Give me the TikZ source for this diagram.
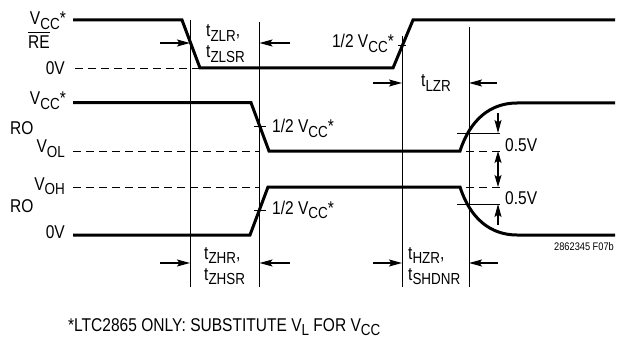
\documentclass[tikz,border=0pt]{standalone}
\usepackage{fontspec}
\setmainfont{Liberation Sans}[FakeStretch=0.84]
\usetikzlibrary{arrows.meta}
\newcommand\sbs[1]{\raisebox{-4.5pt}{\fontsize{16}{16}\selectfont #1}}
\newcommand\vcc{V\sbs{CC}}
\begin{document}
\begin{tikzpicture}[x=1pt,y=-1pt,
  wave/.style={line width=3pt,line join=miter},
  guide/.style={line width=0.9pt},
  dashline/.style={line width=0.9pt,dash pattern=on 8pt off 5pt},
  arr/.style={line width=1.1pt,-{Stealth[length=13pt,width=7pt,inset=2.5pt]}},
  darr/.style={line width=1.1pt,{Stealth[length=12pt,width=7pt,inset=2.5pt]}-{Stealth[length=12pt,width=7pt,inset=2.5pt]}},
  lbl/.style={inner sep=0pt,font=\fontsize{18.5}{20}\selectfont},
  small/.style={inner sep=0pt,font=\fontsize{11}{11}\selectfont}]
\useasboundingbox (0,0) rectangle (617,339);
% waveforms
\draw[wave] (73,20) -- (182,20) -- (200,68) -- (393,68) -- (413,20) -- (615,20);
\draw[wave] (73,102.7) -- (251,102.7) -- (269,151) -- (460,151)
  .. controls (470,120) and (490,103) .. (517,103) -- (615,103);
\draw[wave] (73,235) -- (250,235) -- (268,187) -- (460,187)
  .. controls (470,218) and (490,235) .. (517,235) -- (615,235);
% dashed levels
\draw[dashline] (75,68) -- (200,68);
\draw[dashline] (73,151) -- (260,151);
\draw[dashline] (73,187) -- (260,187);
\draw[dashline] (466,151) -- (500,151);
\draw[dashline] (466,187) -- (500,187);
% reference lines
\draw[guide] (457,133) -- (500,133);
\draw[guide] (457,204) -- (500,204);
% verticals
\coordinate (v1t) at (190,20);  \coordinate (v1b) at (190,287);
\coordinate (v2t) at (259.5,22); \coordinate (v2b) at (259.5,287);
\coordinate (v3t) at (402,36);  \coordinate (v3b) at (402,287);
\coordinate (v4t) at (469,27);  \coordinate (v4b) at (469,287);
\draw[guide] (v1t) -- (v1b);
\draw[guide] (v2t) -- (v2b);
\draw[guide] (v3t) -- (v3b);
\draw[guide] (v4t) -- (v4b);
% ticks
\draw[guide] (398,45) -- (406,45);
\draw[guide] (254,126) -- (266,126);
\draw[guide] (254,210) -- (266,210);
% horizontal timing arrows
\draw[arr] (160,43) -- (190,43);
\draw[arr] (290,43) -- (259.5,43);
\draw[arr] (373,83) -- (402,83);
\draw[arr] (497,83) -- (469,83);
\draw[arr] (160,263) -- (190,263);
\draw[arr] (290,263) -- (259.5,263);
\draw[arr] (373,263) -- (402,263);
\draw[arr] (498,263) -- (469,263);
% vertical 0.5V arrows
\draw[arr] (498,113) -- (498,133);
\draw[darr] (498,151) -- (498,187);
\draw[arr] (498,225) -- (498,204);
% left labels
\node[lbl,anchor=base east] (vcc1) at (66,25) {\vcc*};
\node[lbl,anchor=base west] (re) at (28,49) {RE};
\draw[line width=1pt] ([yshift=4pt]re.north west) -- ([yshift=4pt]re.north east);
\node[lbl,anchor=base east] (zero1) at (65,75) {0V};
\node[lbl,anchor=base east] (vcc2) at (66,105) {\vcc*};
\node[lbl,anchor=base west] (ro1) at (10,135) {RO};
\node[lbl,anchor=base east] (vol) at (65,153) {V\sbs{OL}};
\node[lbl,anchor=base east] (voh) at (65,190) {V\sbs{OH}};
\node[lbl,anchor=base west] (ro2) at (10,212) {RO};
\node[lbl,anchor=base east] (zero2) at (65,238) {0V};
% half-Vcc labels
\node[lbl,anchor=base east] (h1) at (394,48) {1/2 \vcc*};
\node[lbl,anchor=base west] (h2) at (272,133) {1/2 \vcc*};
\node[lbl,anchor=base west] (h3) at (272,214) {1/2 \vcc*};
% 0.5V labels
\node[lbl,anchor=base west] (d1) at (505,151) {0.5V};
\node[lbl,anchor=base west] (d2) at (505,204) {0.5V};
% timing labels
\node[lbl,anchor=base west] (tzlr) at (206,37) {t\sbs{ZLR},};
\node[lbl,anchor=base west] (tzlsr) at (206,58) {t\sbs{ZLSR}};
\node[lbl,anchor=base west] (tlzr) at (421,87) {t\sbs{LZR}};
\node[lbl,anchor=base west] (tzhr) at (204,259) {t\sbs{ZHR},};
\node[lbl,anchor=base west] (tzhsr) at (204,280) {t\sbs{ZHSR}};
\node[lbl,anchor=base west] (thzr) at (408,259) {t\sbs{HZR},};
\node[lbl,anchor=base west] (tshdnr) at (408,280) {t\sbs{SHDNR}};
% figure id and footnote
\node[small,anchor=base east] (fig) at (614,250) {2862345 F07b};
\node[lbl,anchor=base west] (note) at (68,331) {*LTC2865 ONLY: SUBSTITUTE V\sbs{L} FOR \vcc};
\end{tikzpicture}
\end{document}
